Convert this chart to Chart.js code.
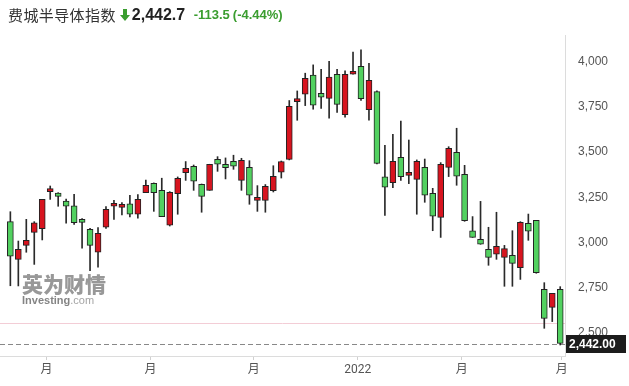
<!DOCTYPE html>
<html>
<head>
<meta charset="utf-8">
<script src="https://cdn.jsdelivr.net/npm/chart.js@4.4.1/dist/chart.umd.min.js"></script>
<style>
html, body { margin: 0; padding: 0; background: #fff; }
#wrap { position: relative; width: 629px; height: 386px; overflow: hidden; }
#kChart { position: absolute; left: 0; top: 0; }
#head { position: absolute; left: 8px; top: 4px; white-space: nowrap; font-family: Arial, "Liberation Sans", sans-serif; }
#head .name { font-family: "Noto Sans CJK SC", sans-serif; font-size: 15px; color: #333; letter-spacing: 0.4px; vertical-align: middle; }
#head svg { vertical-align: middle; margin: 0 2px 0 4px; }
#head .last { font-size: 16px; font-weight: bold; color: #222; vertical-align: middle; }
#head .chg { font-size: 13px; font-weight: bold; color: #3a9d2f; vertical-align: middle; margin-left: 4px; }
#mark { position: absolute; left: 22px; top: 272px; color: #8d8d8d; opacity: 0.9; }
#mark .cn { font-family: "Noto Sans CJK SC", sans-serif; font-weight: 900; font-size: 21px; line-height: 23px; }
#mark .en { font-family: Arial, "Liberation Sans", sans-serif; font-size: 11px; font-weight: bold; line-height: 11px; color: #777; }
#mark .en span { font-weight: normal; color: #999; }
</style>
</head>
<body>
<div id="wrap">
  <canvas id="kChart" width="629" height="386"></canvas>
  <div id="head">
    <span class="name">费城半导体指数</span><svg width="10" height="12" viewBox="0 0 10 12"><path d="M3 0 H7 V6 H10 L5 12 L0 6 H3 Z" fill="#3a9d2f"/></svg><span class="last">2,442.7</span>
    <span class="chg">-113.5</span><span class="chg" style="margin-left:3px">(-4.44%)</span>
  </div>
  <div id="mark">
    <div class="cn">英为财情</div>
    <div class="en">Investing<span>.com</span></div>
  </div>
</div>
<script>
// weekly candles, oldest first
let openVals  = [3115, 2907, 2984, 3056, 3076, 3281, 3273, 3229, 3202, 3128,
                 3073, 2946, 3084, 3200, 3194, 3213, 3157, 3275, 3327, 3288,
                 3095, 3270, 3386, 3421, 3321, 3288, 3459, 3432, 3448, 3343,
                 3415, 3233, 3233, 3286, 3388, 3459, 3778, 3819, 3924, 3824,
                 3796, 3929, 3706, 3929, 3973, 3734, 3833, 3362, 3331, 3471,
                 3371, 3349, 3415, 3272, 3139, 3415, 3498, 3377, 3065, 3017,
                 2962, 2935, 2918, 2929, 2861, 3106, 3122, 2741, 2642, 2741];
let highVals  = [3170, 3008, 3128, 3115, 3238, 3312, 3275, 3240, 3266, 3132,
                 3078, 3082, 3198, 3233, 3220, 3261, 3264, 3345, 3329, 3355,
                 3281, 3362, 3447, 3428, 3323, 3432, 3474, 3467, 3482, 3465,
                 3452, 3314, 3320, 3424, 3450, 3784, 3837, 3935, 3981, 3957,
                 4001, 3957, 3948, 4051, 4064, 3990, 3837, 3537, 3598, 3671,
                 3566, 3456, 3461, 3299, 3441, 3529, 3631, 3426, 3143, 3227,
                 3084, 3167, 2984, 3065, 3115, 3157, 3122, 2778, 2719, 2756];
let lowVals   = [2761, 2760, 2946, 2879, 3014, 3238, 3200, 3106, 3100, 2968,
                 2844, 2863, 3078, 3128, 3152, 3141, 3134, 3275, 3172, 3143,
                 3091, 3156, 3343, 3288, 3167, 3288, 3393, 3351, 3404, 3288,
                 3211, 3172, 3167, 3279, 3356, 3456, 3675, 3756, 3736, 3741,
                 3686, 3719, 3692, 3929, 3785, 3675, 3434, 3150, 3303, 3343,
                 3325, 3156, 3222, 3065, 3028, 3364, 3316, 3117, 3028, 2990,
                 2874, 2907, 2758, 2758, 2796, 3012, 2830, 2526, 2563, 2434];
let closeVals = [2925, 2962, 3012, 3108, 3238, 3294, 3255, 3200, 3110, 3111,
                 2984, 3051, 3183, 3213, 3207, 3157, 3238, 3316, 3275, 3143,
                 3277, 3355, 3410, 3338, 3255, 3432, 3432, 3413, 3421, 3454,
                 3261, 3244, 3310, 3366, 3447, 3752, 3791, 3907, 3758, 3802,
                 3913, 3763, 3929, 3940, 3795, 3896, 3437, 3305, 3448, 3364,
                 3382, 3448, 3261, 3145, 3432, 3520, 3366, 3121, 3028, 2990,
                 2918, 2979, 2966, 2885, 3111, 3062, 2833, 2581, 2719, 2442.7];

let lastPrice = 2442.0;
let prevClose = 2556.2;

// x-axis labels (position in weeks from the first candle)
let xTickPos    = [4.52, 17.58, 30.55, 43.6, 56.65, 69.2];
let xTickLabels = ['月', '月', '月', '2022', '月', '月'];
let yTickVals   = [2500, 2750, 3000, 3250, 3500, 3750, 4000];

let upColor = '#d7141f';
let downColor = '#52d160';

let bodies = openVals.map((o, i) => ({ x: i, y: [o, closeVals[i]] }));
let wicks = lowVals.map((l, i) => ({ x: i, y: [l, highVals[i]] }));
let bodyColors = openVals.map((o, i) => closeVals[i] >= o ? upColor : downColor);

// previous close, last price dashed line and price tag
const priceLines = {
    id: 'priceLines',
    beforeDatasetsDraw(chart) {
        const { ctx, chartArea: a, scales: { y } } = chart;
        ctx.save();
        let py = Math.round(y.getPixelForValue(prevClose)) + 0.5;
        ctx.strokeStyle = '#f3cdd6';
        ctx.lineWidth = 1;
        ctx.beginPath();
        ctx.moveTo(a.left, py);
        ctx.lineTo(a.right, py);
        ctx.stroke();

        let ly = Math.round(y.getPixelForValue(lastPrice)) + 0.5;
        ctx.strokeStyle = '#888';
        ctx.setLineDash([5, 3]);
        ctx.beginPath();
        ctx.moveTo(a.left, ly);
        ctx.lineTo(a.right, ly);
        ctx.stroke();
        ctx.restore();
    },
    afterDraw(chart) {
        const { ctx, chartArea: a, scales: { y } } = chart;
        ctx.save();
        // clip the last x label at the plot edge
        ctx.fillStyle = '#fff';
        ctx.fillRect(a.right + 1, a.bottom + 6, 629 - a.right, 386 - a.bottom);

        let ly = y.getPixelForValue(lastPrice);
        ctx.fillStyle = '#1c1c1c';
        ctx.fillRect(a.right + 1, Math.round(ly) - 9, 60, 18);
        ctx.fillStyle = '#fff';
        ctx.font = 'bold 12px Arial, "Liberation Sans", sans-serif';
        ctx.textBaseline = 'middle';
        ctx.textAlign = 'left';
        ctx.fillText(lastPrice.toLocaleString('en-US', { minimumFractionDigits: 2 }), a.right + 4, Math.round(ly) + 0.5);
        ctx.restore();
    }
};

let ctx = document.getElementById('kChart').getContext('2d');
let kChart = new Chart(ctx, {
    type: 'bar',
    data: {
        datasets: [{
            label: 'body',
            data: bodies,
            backgroundColor: bodyColors,
            borderColor: '#222',
            borderWidth: 1,
            borderSkipped: false,
            barThickness: 6,
            minBarLength: 3,
            grouped: false,
            order: 1
        }, {
            label: 'wick',
            data: wicks,
            backgroundColor: '#2a2a2a',
            borderWidth: 0,
            barThickness: 1,
            grouped: false,
            order: 2
        }]
    },
    options: {
        responsive: false,
        devicePixelRatio: 1,
        animation: false,
        layout: { padding: { top: 35, left: 0, right: 0, bottom: 0 } },
        plugins: { legend: { display: false }, tooltip: { enabled: false } },
        scales: {
            x: {
                type: 'linear',
                min: -1.3,
                max: 69.6,
                offset: false,
                grid: { display: true, offset: false, drawOnChartArea: false, drawTicks: true, tickLength: 4, color: '#d0d0d0' },
                border: { display: true, color: '#dcdcdc' },
                afterBuildTicks: s => { s.ticks = xTickPos.map(v => ({ value: v })); },
                afterFit: s => { s.height = 30; },
                ticks: {
                    autoSkip: false,
                    maxRotation: 0,
                    padding: 3,
                    color: '#555',
                    font: { size: 12, family: 'Roboto, "Noto Sans CJK SC", sans-serif' },
                    callback: (v, i) => xTickLabels[i]
                }
            },
            y: {
                position: 'right',
                min: 2373,
                max: 4146,
                grid: { display: false },
                border: { display: true, color: '#dcdcdc' },
                afterBuildTicks: s => { s.ticks = yTickVals.map(v => ({ value: v })); },
                afterFit: s => { s.width = 64; },
                ticks: {
                    padding: 5,
                    color: '#555',
                    font: { size: 12, family: 'Arial, "Liberation Sans", sans-serif' },
                    callback: v => v.toLocaleString('en-US')
                }
            }
        }
    },
    plugins: [priceLines]
});
</script>
</body>
</html>
